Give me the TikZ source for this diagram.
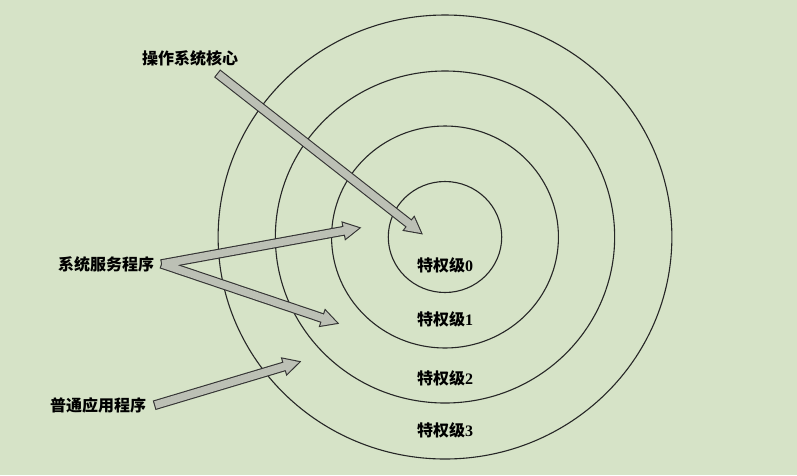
\documentclass[tikz,border=0pt]{standalone}
\usepackage{fontspec}
\setmainfont{Liberation Serif}
\newfontfamily\cjk{Noto Sans CJK SC}
\usetikzlibrary{calc}
\definecolor{bggreen}{RGB}{214,227,199}
\definecolor{arrowgray}{RGB}{188,192,181}
\tikzset{
  ring/.style={draw=black!85, line width=1.1pt},
  lbl/.style={font=\cjk\bfseries\fontsize{16}{18}\selectfont, inner sep=2pt},
  lvl/.style={font=\bfseries\fontsize{16}{18}\selectfont, inner sep=2pt},
  arrowline/.style={draw=black!80, line width=2.2pt, line join=miter},
  arrowfill/.style={fill=arrowgray},
}
% fat arrow: #1 from, #2 to, #3 style
\newcommand{\fatarrow}[3]{%
  \coordinate (#1-#2-base) at ($(#2)!15pt!(#1)$);
  \path[#3] ($(#1)!3.8pt!90:(#2)$) -- ($(#1-#2-base)!3.8pt!-90:(#1)$)
    -- ($(#1-#2-base)!8pt!-90:(#1)$) -- (#2)
    -- ($(#1-#2-base)!8pt!90:(#1)$) -- ($(#1-#2-base)!3.8pt!90:(#1)$)
    -- ($(#1)!3.8pt!-90:(#2)$) -- cycle;}
\begin{document}
\begin{tikzpicture}[x=1pt,y=-1pt]
  \fill[bggreen] (0,0) rectangle (797,475);
  \useasboundingbox (0,0) rectangle (797,475);
  % privilege rings
  \coordinate (core) at (445,237);
  \foreach \r in {55.5,111,166,222}
    \draw[ring] (core) ellipse [x radius=1.022*\r, y radius=\r];
  \node[lvl] (lv0) at (445,265) {{\cjk 特权级}0};
  \node[lvl] (lv1) at (445,319) {{\cjk 特权级}1};
  \node[lvl] (lv2) at (445,378) {{\cjk 特权级}2};
  \node[lvl] (lv3) at (445,430) {{\cjk 特权级}3};
  % callers
  \node[lbl] (kernel) at (190,58) {操作系统核心};
  \node[lbl] (service) at (106,264) {系统服务程序};
  \node[lbl] (app) at (98,405) {普通应用程序};
  \coordinate (kernelfrom) at ($(kernel.south)+(28,6)$);
  \coordinate (servicefrom) at ($(service.east)+(6,0)$);
  \coordinate (appfrom) at ($(app.east)+(7,0)$);
  \coordinate (kernelto) at (421,233);
  \coordinate (serviceup) at (359,228);
  \coordinate (servicedown) at (337,323);
  \coordinate (appto) at (299,362);
  % arrows: outlines first, then fill
  \foreach \s in {arrowline,arrowfill}{
    \fatarrow{kernelfrom}{kernelto}{\s}
    \fatarrow{servicefrom}{serviceup}{\s}
    \fatarrow{servicefrom}{servicedown}{\s}
    \fatarrow{appfrom}{appto}{\s}
  }
\end{tikzpicture}
\end{document}
